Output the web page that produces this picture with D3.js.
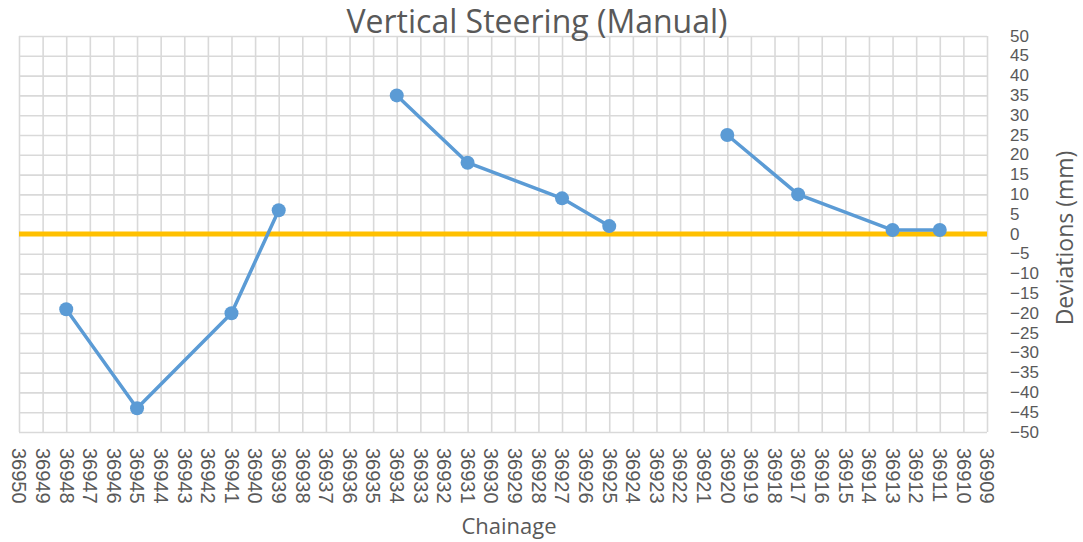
<!DOCTYPE html>
<html>
<head>
<meta charset="utf-8">
<script src="https://cdn.jsdelivr.net/npm/d3@7"></script>
<style>
  html, body { margin: 0; padding: 0; background: #fff; }
  svg { display: block; font-family: "Open Sans", "Noto Sans", sans-serif; }
</style>
</head>
<body>
<svg id="chart" width="1083" height="542"></svg>
<script>
// Survey readings: chainage vs. vertical deviation (null = no reading, breaks the line)
const chainage   = [36948, 36945, 36941, 36939, 36936, 36934, 36931, 36927, 36925, 36922, 36920, 36917, 36913, 36911];
const deviations = [  -19,   -44,   -20,     6,  null,    35,    18,     9,     2,  null,    25,    10,     1,     1];

// Design line (zero deviation) across the full chainage range
const designChainage  = [36950, 36909];
const designDeviation = [0, 0];

// Axis ranges and tick steps
const xDomain = [36950, 36909];
const yDomain = [-50, 50];
const xTickValues = d3.range(36950, 36908, -1);
const yTickValues = d3.range(-50, 51, 5);

const title  = "Vertical Steering (Manual)";
const xTitle = "Chainage";
const yTitle = "Deviations (mm)";

const svg = d3.select("#chart");
const plot = { left: 19, right: 987, top: 36, bottom: 432 };

const x = d3.scaleLinear().domain(xDomain).range([plot.left, plot.right]);
const y = d3.scaleLinear().domain(yDomain).range([plot.bottom, plot.top]);

const textColor = "#595959";
const gridColor = "#d9d9d9";

// Gridlines (vertical + horizontal) drawn through axis generators
const gx = svg.append("g")
  .attr("transform", `translate(0,${plot.bottom})`)
  .call(d3.axisBottom(x).tickValues(xTickValues).tickSize(-(plot.bottom - plot.top)).tickFormat(""));
gx.select(".domain").remove();
gx.selectAll(".tick line").attr("stroke", gridColor).attr("stroke-width", 1.6);

const gy = svg.append("g")
  .attr("transform", `translate(${plot.left},0)`)
  .call(d3.axisLeft(y).tickValues(yTickValues).tickSize(-(plot.right - plot.left)).tickFormat(""));
gy.select(".domain").remove();
gy.selectAll(".tick line").attr("stroke", gridColor).attr("stroke-width", 1.6);

// X tick labels, rotated to read downward
const xLab = svg.append("g")
  .attr("transform", `translate(0,${plot.bottom + 16})`)
  .call(d3.axisBottom(x).tickValues(xTickValues).tickSize(0).tickFormat(d3.format("d")));
xLab.select(".domain").remove();
xLab.selectAll("text")
  .attr("fill", textColor)
  .style("font-size", "20px")
  .attr("text-anchor", "start")
  .attr("transform", "rotate(90)")
  .attr("x", 0)
  .attr("y", 0)
  .attr("dy", "0.36em");

// Y tick labels on the right, left-aligned (compact face so the rows stay clear of each other)
const yLab = svg.append("g")
  .attr("transform", `translate(${plot.right + 23},0)`)
  .call(d3.axisRight(y).tickValues(yTickValues).tickSize(0).tickFormat(d3.format("d")));
yLab.select(".domain").remove();
yLab.selectAll("text")
  .attr("fill", textColor)
  .style("font-family", "'Liberation Sans', Arial, sans-serif")
  .style("font-size", "17px")
  .attr("x", 0)
  .attr("dy", "0.3em");

// Zero design line
const line = d3.line()
  .defined((d) => d[1] !== null)
  .x((d) => x(d[0]))
  .y((d) => y(d[1]));

svg.append("path")
  .datum(designChainage.map((c, i) => [c, designDeviation[i]]))
  .attr("d", line)
  .attr("fill", "none")
  .attr("stroke", "#FFC000")
  .attr("stroke-width", 5);

// Deviation series
const pts = chainage.map((c, i) => [c, deviations[i]]);
const blue = "#5B9BD5";

svg.append("path")
  .datum(pts)
  .attr("d", line)
  .attr("fill", "none")
  .attr("stroke", blue)
  .attr("stroke-width", 3.5)
  .attr("stroke-linejoin", "round");

svg.append("g")
  .selectAll("circle")
  .data(pts.filter((d) => d[1] !== null))
  .join("circle")
  .attr("cx", (d) => x(d[0]))
  .attr("cy", (d) => y(d[1]))
  .attr("r", 7)
  .attr("fill", blue);

// Titles
svg.append("text")
  .attr("x", 537)
  .attr("y", 33)
  .attr("text-anchor", "middle")
  .attr("fill", textColor)
  .style("font-size", "32px")
  .text(title);

svg.append("text")
  .attr("x", 509)
  .attr("y", 534)
  .attr("text-anchor", "middle")
  .attr("fill", textColor)
  .style("font-size", "22px")
  .text(xTitle);

svg.append("text")
  .attr("transform", `translate(1073,238) rotate(-90)`)
  .attr("text-anchor", "middle")
  .attr("fill", textColor)
  .style("font-size", "23px")
  .text(yTitle);
</script>
</body>
</html>
